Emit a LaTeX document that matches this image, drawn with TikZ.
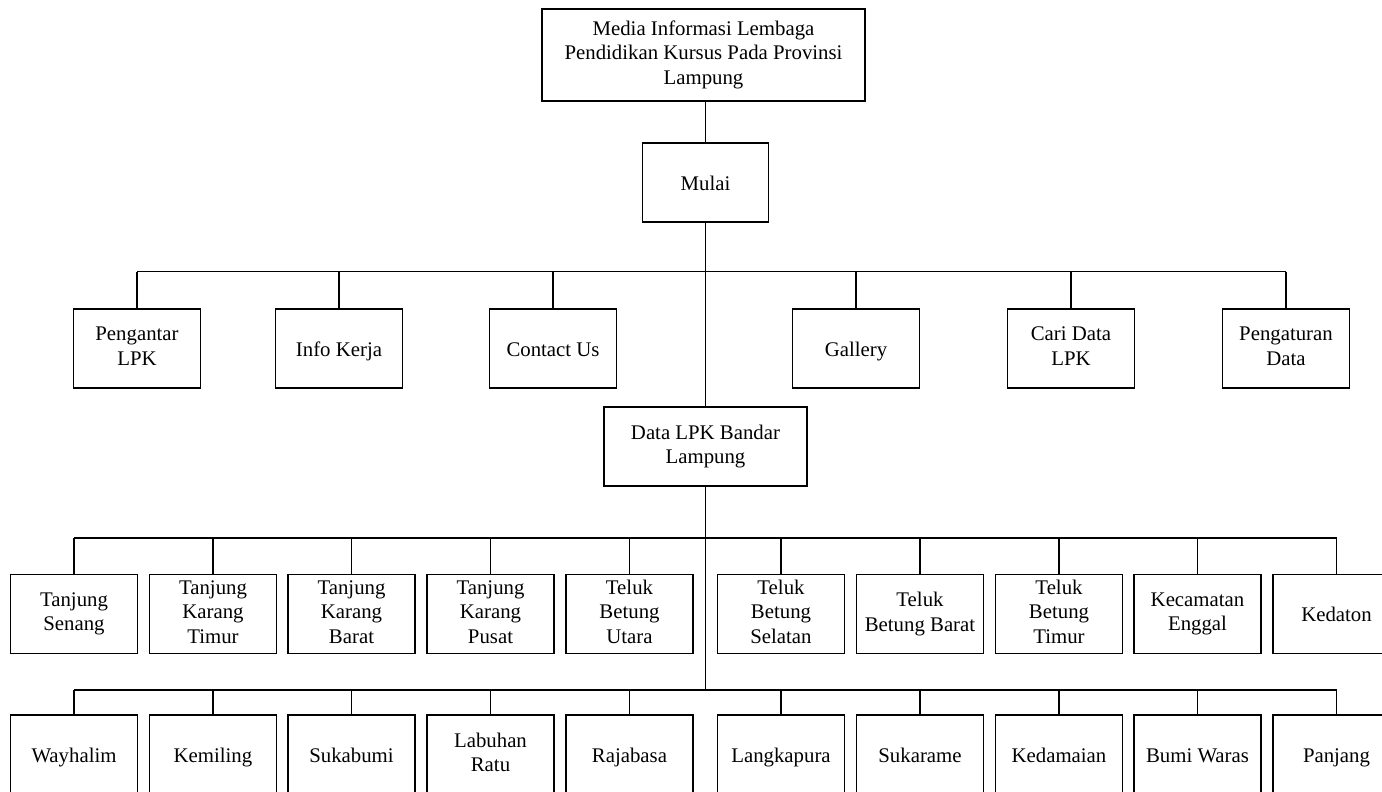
\documentclass[tikz,border=0pt]{standalone}
\usepackage{fontspec}
\setmainfont{Liberation Serif}
\newcommand{\mystrut}{\rule[-4.75pt]{0pt}{24.5pt}}
\begin{document}
\begin{tikzpicture}[x=1pt,y=-1pt,
  every node/.style={font=\fontsize{20.8}{24.5}\selectfont},
  box/.style={draw,line width=1.1pt,inner sep=0pt,outer sep=0pt,align=center,minimum width=127pt,minimum height=79pt,
    execute at begin node=\mystrut, execute at end node=\mystrut},
  conn/.style={line width=1.1pt}]
\useasboundingbox (0,0) rectangle (1382,792);
% top
\node[box,minimum width=323pt,minimum height=92pt] (top) at (703.5,55) {Media Informasi Lembaga\\Pendidikan Kursus Pada Provinsi\\Lampung};
\node[box,minimum width=126pt] (mulai) at (705.5,182.5) {Mulai};
\node[box,minimum width=203pt] (data) at (705.5,446.5) {Data LPK Bandar\\Lampung};
% level 1
\node[box] (p1) at (137,348.5) {Pengantar\\LPK};
\node[box] (p2) at (339,348.5) {Info Kerja};
\node[box] (p3) at (553,348.5) {Contact Us};
\node[box] (p4) at (856,348.5) {Gallery};
\node[box] (p5) at (1071,348.5) {Cari Data\\LPK};
\node[box] (p6) at (1286,348.5) {Pengaturan\\Data};
% level 2
\node[box] (k1) at (74,614) {Tanjung\\Senang};
\node[box] (k2) at (213,614) {Tanjung\\Karang\\Timur};
\node[box] (k3) at (351.5,614) {Tanjung\\Karang\\Barat};
\node[box] (k4) at (490.5,614) {Tanjung\\Karang\\Pusat};
\node[box] (k5) at (629.5,614) {Teluk\\Betung\\Utara};
\node[box] (k6) at (781,614) {Teluk\\Betung\\Selatan};
\node[box] (k7) at (920,614) {Teluk\\Betung Barat};
\node[box] (k8) at (1059,614) {Teluk\\Betung\\Timur};
\node[box] (k9) at (1197.5,614) {Kecamatan\\Enggal};
\node[box] (k10) at (1336.5,614) {Kedaton};
% level 3
\node[box] (m1) at (74,754.5) {Wayhalim};
\node[box] (m2) at (213,754.5) {Kemiling};
\node[box] (m3) at (351.5,754.5) {Sukabumi};
\node[box] (m4) at (490.5,754.5) {Labuhan\\Ratu};
\node[box] (m5) at (629.5,754.5) {Rajabasa};
\node[box] (m6) at (781,754.5) {Langkapura};
\node[box] (m7) at (920,754.5) {Sukarame};
\node[box] (m8) at (1059,754.5) {Kedamaian};
\node[box] (m9) at (1197.5,754.5) {Bumi Waras};
\node[box] (m10) at (1336.5,754.5) {Panjang};
% bus coordinates
\coordinate (b1) at (705.5,271.5);
\coordinate (b2) at (705.5,538);
\coordinate (b3) at (705.5,690);
% trunk
\draw[conn] (mulai.north) -- (mulai.north |- top.south);
\draw[conn] (mulai.south) -- (data.north);
\draw[conn] (data.south) -- (b3);
% level 1 bus
\draw[conn] (p1.north |- b1) -- (p6.north |- b1);
\foreach \n in {p1,p2,p3,p4,p5,p6} \draw[conn] (\n.north) -- (\n.north |- b1);
% level 2 bus
\draw[conn] (k1.north |- b2) -- (k10.north |- b2);
\foreach \n in {k1,k2,k3,k4,k5,k6,k7,k8,k9,k10} \draw[conn] (\n.north) -- (\n.north |- b2);
% level 3 bus
\draw[conn] (m1.north |- b3) -- (m10.north |- b3);
\foreach \n in {m1,m2,m3,m4,m5,m6,m7,m8,m9,m10} \draw[conn] (\n.north) -- (\n.north |- b3);
\end{tikzpicture}
\end{document}
